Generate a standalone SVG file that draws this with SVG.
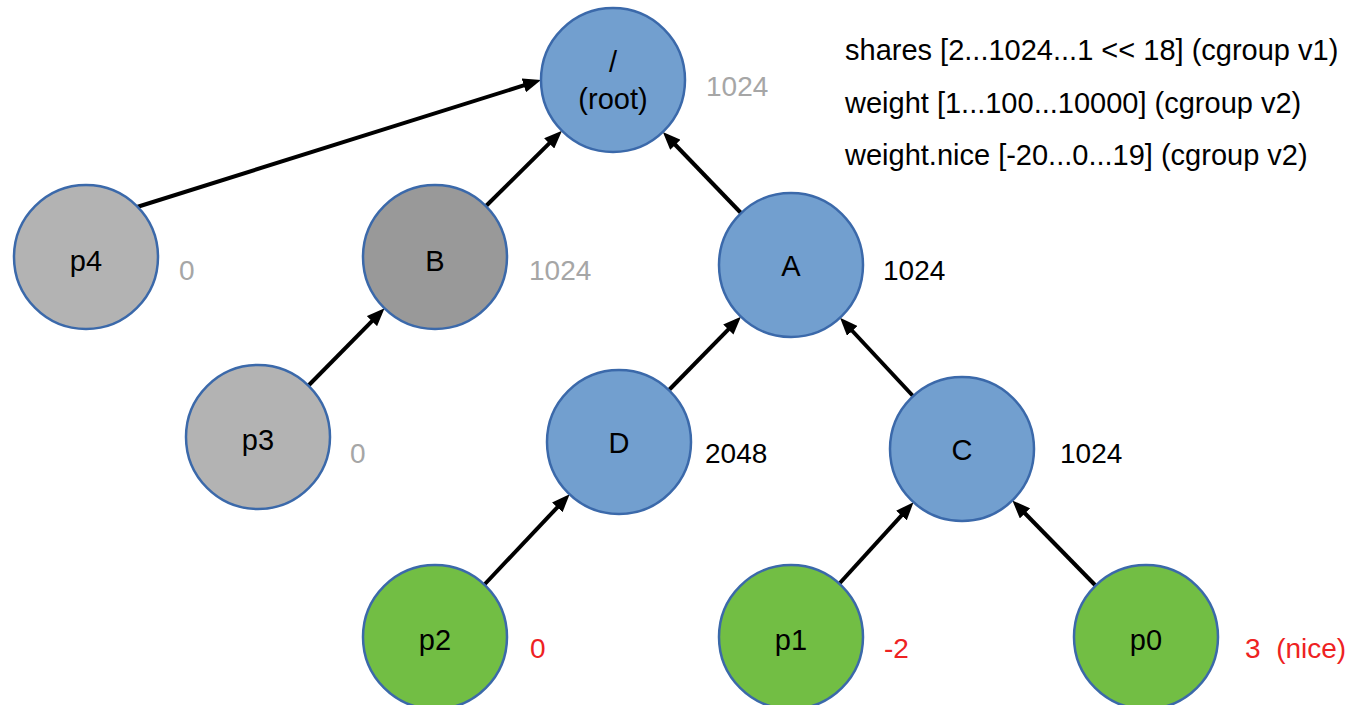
<svg xmlns="http://www.w3.org/2000/svg" width="1355" height="705" viewBox="0 0 1355 705">
<style>
.node{stroke:#3B69AA;stroke-width:2.5}
.blue{fill:#729FCF}
.lgray{fill:#B3B3B3}
.dgray{fill:#999999}
.green{fill:#72BE44}
text{font-family:"Liberation Sans",Arial,sans-serif}
.lbl{font-size:29px;fill:#000;text-anchor:middle}
.val{font-size:28px;white-space:pre}
.g{fill:#A6A6A6}
.k{fill:#000}
.r{fill:#EE2222}
.info{font-size:29px;fill:#000}
.edge{stroke:#000;stroke-width:4;fill:none;marker-end:url(#arr)}
</style>
<defs>
<marker id="arr" viewBox="0 0 10 8" refX="2.2" refY="4" markerWidth="4.5" markerHeight="3.6" orient="auto">
<path d="M0,0 L10,4 L0,8 z" fill="#000"/>
</marker>
</defs>
<g id="connectors">
<line class="edge" x1="137" y1="207" x2="527.6" y2="84.2"/>
<line class="edge" x1="486" y1="206" x2="552" y2="140.6"/>
<line class="edge" x1="741" y1="213" x2="672.6" y2="142"/>
<line class="edge" x1="308" y1="386" x2="374.7" y2="318.3"/>
<line class="edge" x1="669" y1="390" x2="731.1" y2="326.7"/>
<line class="edge" x1="913" y1="396" x2="849.6" y2="328"/>
<line class="edge" x1="484" y1="585" x2="560" y2="504.5"/>
<line class="edge" x1="839" y1="584" x2="904.1" y2="512.6"/>
<line class="edge" x1="1096" y1="586" x2="1022.2" y2="510.5"/>
</g>
<g id="root">
<circle class="node blue" cx="613" cy="80" r="72"/>
<text class="lbl" x="613" y="72">/</text>
<text class="lbl" x="613" y="109">(root)</text>
<text class="val g" x="706" y="96">1024</text>
</g>
<g id="p4">
<circle class="node lgray" cx="86" cy="257" r="72"/>
<text class="lbl" x="86" y="271">p4</text>
<text class="val g" x="179" y="280">0</text>
</g>
<g id="B">
<circle class="node dgray" cx="435" cy="257" r="72"/>
<text class="lbl" x="435" y="271">B</text>
<text class="val g" x="529" y="280">1024</text>
</g>
<g id="A">
<circle class="node blue" cx="791" cy="265" r="72"/>
<text class="lbl" x="791" y="276">A</text>
<text class="val k" x="883" y="280">1024</text>
</g>
<g id="p3">
<circle class="node lgray" cx="258" cy="437" r="72"/>
<text class="lbl" x="258" y="450">p3</text>
<text class="val g" x="350" y="463">0</text>
</g>
<g id="D">
<circle class="node blue" cx="619" cy="442" r="72"/>
<text class="lbl" x="619" y="453">D</text>
<text class="val k" x="705" y="463">2048</text>
</g>
<g id="C">
<circle class="node blue" cx="962" cy="449" r="72"/>
<text class="lbl" x="962" y="460">C</text>
<text class="val k" x="1060" y="463">1024</text>
</g>
<g id="p2">
<circle class="node green" cx="435" cy="637" r="72"/>
<text class="lbl" x="435" y="650">p2</text>
<text class="val r" x="530" y="658">0</text>
</g>
<g id="p1">
<circle class="node green" cx="791" cy="637" r="72"/>
<text class="lbl" x="791" y="650">p1</text>
<text class="val r" x="884" y="658">-2</text>
</g>
<g id="p0">
<circle class="node green" cx="1146" cy="637" r="72"/>
<text class="lbl" x="1146" y="650">p0</text>
<text class="val r" x="1245" y="658">3  (nice)</text>
</g>
<g id="legend">
<text class="info" x="845" y="60">shares [2...1024...1 &lt;&lt; 18] (cgroup v1)</text>
<text class="info" x="845" y="113">weight [1...100...10000] (cgroup v2)</text>
<text class="info" x="845" y="165">weight.nice [-20...0...19] (cgroup v2)</text>
</g>
</svg>
